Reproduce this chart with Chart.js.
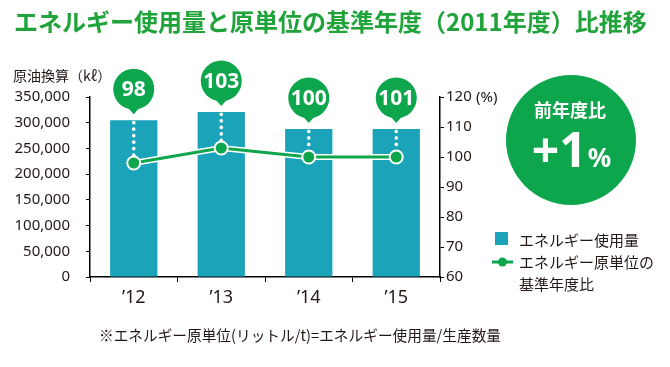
<!DOCTYPE html>
<html>
<head>
<meta charset="utf-8">
<script src="https://cdn.jsdelivr.net/npm/chart.js@4"></script>
<style>
  body { margin: 0; background: #fff; }
  canvas { display: block; }
</style>
</head>
<body>
<canvas id="chart" width="670" height="367"></canvas>
<script>
const years = ['\u201912', '\u201913', '\u201914', '\u201915'];
const energyUse = [305000, 321000, 288000, 288000];
const ratioPoints = [98, 103, 100, 100];
const ratioLabels = [98, 103, 100, 101];
const leftTicks = [0, 50000, 100000, 150000, 200000, 250000, 300000, 350000];
const rightTicks = [60, 70, 80, 90, 100, 110, 120];

const JP = '"Noto Sans CJK JP", "Noto Sans", sans-serif';
const LATIN = '"Noto Sans", "Noto Sans CJK JP", sans-serif';
const GREEN = '#0ea64c';
const TEAL = '#1aa3b9';
const TEXT = '#231815';

// bubbles with values above each bar + dotted leader to the line point
const bubbles = {
  id: 'bubbles',
  beforeDatasetDraw(chart, args) {
    if (args.index !== 1) return;
    const ctx = chart.ctx;
    const pts = chart.getDatasetMeta(1).data;
    ctx.save();
    ctx.strokeStyle = '#fff';
    ctx.lineWidth = 6;
    ctx.lineJoin = 'round';
    ctx.beginPath();
    pts.forEach((p, i) => i ? ctx.lineTo(p.x, p.y) : ctx.moveTo(p.x, p.y));
    ctx.stroke();
    ctx.restore();
  },
  afterDatasetsDraw(chart) {
    const ctx = chart.ctx;
    const bars = chart.getDatasetMeta(0).data;
    const pts = chart.getDatasetMeta(1).data;
    ctx.save();
    bars.forEach((bar, i) => {
      const x = bar.x;
      const cy = bar.y - 31;
      const tip = bar.y - 6;
      // dotted leader
      ctx.fillStyle = '#fff';
      for (let y = tip + 2; y < pts[i].y - 7; y += 6.5) {
        ctx.beginPath();
        ctx.arc(x, y, 1.8, 0, Math.PI * 2);
        ctx.fill();
      }
      // bubble
      ctx.fillStyle = GREEN;
      ctx.beginPath();
      ctx.arc(x, cy, 20.5, 0, Math.PI * 2);
      ctx.fill();
      ctx.beginPath();
      ctx.moveTo(x - 8, cy + 16);
      ctx.lineTo(x + 8, cy + 16);
      ctx.lineTo(x, tip);
      ctx.closePath();
      ctx.fill();
      ctx.fillStyle = '#fff';
      ctx.font = 'bold 21px ' + LATIN;
      ctx.textAlign = 'center';
      ctx.textBaseline = 'middle';
      ctx.fillText(String(ratioLabels[i]), x, cy + 1);
    });
    ctx.restore();
  }
};

// title, axis captions, legend, circle badge, footnote
const decor = {
  id: 'decor',
  afterDraw(chart) {
    const ctx = chart.ctx;
    ctx.save();
    ctx.textBaseline = 'middle';
    ctx.textAlign = 'left';

    ctx.fillStyle = '#1fa33a';
    ctx.font = 'bold 24px ' + JP;
    ctx.fillText('エネルギー使用量と原単位の基準年度（2011年度）比推移', 14, 22, 641);

    ctx.fillStyle = TEXT;
    ctx.font = '14px ' + JP;
    ctx.fillText('原油換算（kℓ）', 13, 76);
    ctx.font = '15px ' + LATIN;
    ctx.fillText('(%)', 476, 98);

    // badge
    ctx.fillStyle = GREEN;
    ctx.beginPath();
    ctx.arc(571, 140, 65, 0, Math.PI * 2);
    ctx.fill();
    ctx.fillStyle = '#fff';
    ctx.textAlign = 'center';
    ctx.font = 'bold 18px ' + JP;
    ctx.fillText('前年度比', 570, 110);
    ctx.textBaseline = 'alphabetic';
    ctx.font = 'bold 48px ' + LATIN;
    const w1 = ctx.measureText('+1').width;
    ctx.font = 'bold 26px ' + LATIN;
    const w2 = ctx.measureText('%').width;
    const sx = 571 - (w1 + w2) / 2;
    ctx.textAlign = 'left';
    ctx.font = 'bold 48px ' + LATIN;
    ctx.fillText('+1', sx, 167);
    ctx.font = 'bold 26px ' + LATIN;
    ctx.fillText('%', sx + w1 + 1, 167);

    // legend
    ctx.textBaseline = 'middle';
    ctx.fillStyle = TEAL;
    ctx.fillRect(495, 232, 13, 13);
    ctx.strokeStyle = GREEN;
    ctx.lineWidth = 3;
    ctx.beginPath();
    ctx.moveTo(492, 262);
    ctx.lineTo(513, 262);
    ctx.stroke();
    ctx.fillStyle = GREEN;
    ctx.beginPath();
    ctx.arc(502.5, 262, 4.5, 0, Math.PI * 2);
    ctx.fill();
    ctx.fillStyle = TEXT;
    ctx.font = '15px ' + JP;
    ctx.fillText(chart.data.datasets[0].label, 519, 240);
    ctx.fillText('エネルギー原単位の', 519, 262);
    ctx.fillText('基準年度比', 519, 284);

    ctx.font = '15px ' + JP;
    ctx.fillText('※エネルギー原単位(リットル/t)=エネルギー使用量/生産数量', 99, 335, 402);
    ctx.restore();
  }
};

new Chart(document.getElementById('chart'), {
  type: 'bar',
  data: {
    labels: years,
    datasets: [
      {
        label: 'エネルギー使用量',
        data: energyUse,
        yAxisID: 'y',
        backgroundColor: TEAL,
        barPercentage: 0.54,
        categoryPercentage: 1,
        order: 2
      },
      {
        type: 'line',
        label: 'エネルギー原単位の基準年度比',
        data: ratioPoints,
        yAxisID: 'y1',
        borderColor: GREEN,
        borderWidth: 3,
        pointRadius: 6.5,
        pointBackgroundColor: GREEN,
        pointBorderColor: '#fff',
        pointBorderWidth: 2,
        order: 1
      }
    ]
  },
  options: {
    responsive: false,
    animation: false,
    layout: { padding: { top: 97, left: 0, right: 0, bottom: 0 } },
    plugins: {
      legend: { display: false },
      tooltip: { enabled: false }
    },
    scales: {
      x: {
        grid: { drawOnChartArea: false, tickLength: 5, color: '#000', offset: true },
        border: { color: '#000', width: 1.5 },
        ticks: { color: TEXT, font: { family: LATIN, size: 18 }, padding: 5 },
        afterFit: s => { s.height = 90; }
      },
      y: {
        position: 'left',
        min: 0,
        max: 350000,
        afterBuildTicks: s => { s.ticks = leftTicks.map(v => ({ value: v })); },
        grid: { drawOnChartArea: false, tickLength: 4, color: '#000' },
        border: { color: '#000', width: 1.5 },
        ticks: {
          color: TEXT,
          font: { family: LATIN, size: 15 },
          padding: 16,
          callback: v => v.toLocaleString('en-US')
        },
        afterFit: s => { s.width = 90; }
      },
      y1: {
        position: 'right',
        min: 60,
        max: 120,
        afterBuildTicks: s => { s.ticks = rightTicks.map(v => ({ value: v })); },
        grid: { drawOnChartArea: false, tickLength: 4, color: '#000' },
        border: { color: '#000', width: 1.5 },
        ticks: { color: TEXT, font: { family: LATIN, size: 15 }, padding: 2 },
        afterFit: s => { s.width = 230; }
      }
    }
  },
  plugins: [bubbles, decor]
});
</script>
</body>
</html>
